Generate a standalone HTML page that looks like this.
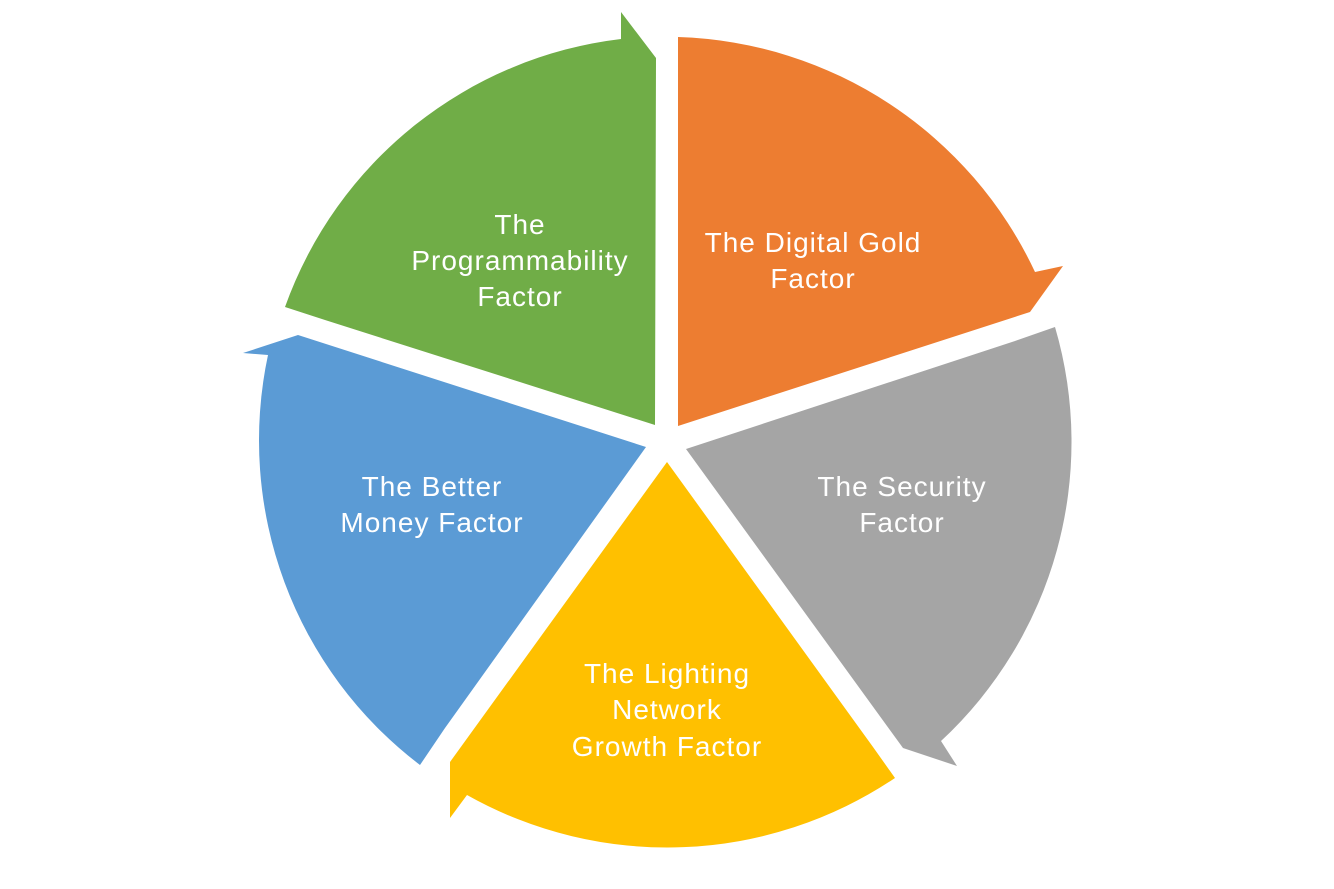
<!DOCTYPE html>
<html><head><meta charset="utf-8"><style>
html,body{margin:0;padding:0;background:#fff;}
svg{display:block;}
text{font-family:"Liberation Sans",sans-serif;font-size:28px;letter-spacing:1px;fill:#fff;text-anchor:middle;}
</style></head><body>
<svg width="1334" height="889" viewBox="0 0 1334 889">
<path fill="#ED7D31" d="M678,37 A408,408 0 0 1 1035,272 L1063,266 L1030,312 L678,426 Z"/>
<path fill="#A5A5A5" d="M1015,341 L1055,327 A408,408 0 0 1 941,741 L957,766 L903,748 L686,449 Z"/>
<path fill="#FFC000" d="M667,462 L873,747 L895,778 A408,408 0 0 1 467,795 L450,818 L450,762 Z"/>
<path fill="#5B9BD5" d="M646,447 L445,728 L420,765 A408,408 0 0 1 268,355 L243,353 L298,335 Z"/>
<path fill="#70AD47" d="M655,425 L325,320 L285,307 A408,408 0 0 1 621,39 L621,12 L656,58 Z"/>
<text x="520" y="234">The</text>
<text x="520" y="270">Programmability</text>
<text x="520" y="306">Factor</text>
<text x="813" y="252">The Digital Gold</text>
<text x="813" y="288">Factor</text>
<text x="902" y="496">The Security</text>
<text x="902" y="532">Factor</text>
<text x="432" y="496">The Better</text>
<text x="432" y="532">Money Factor</text>
<text x="667" y="683">The Lighting</text>
<text x="667" y="719">Network</text>
<text x="667" y="756">Growth Factor</text>
</svg>
</body></html>
